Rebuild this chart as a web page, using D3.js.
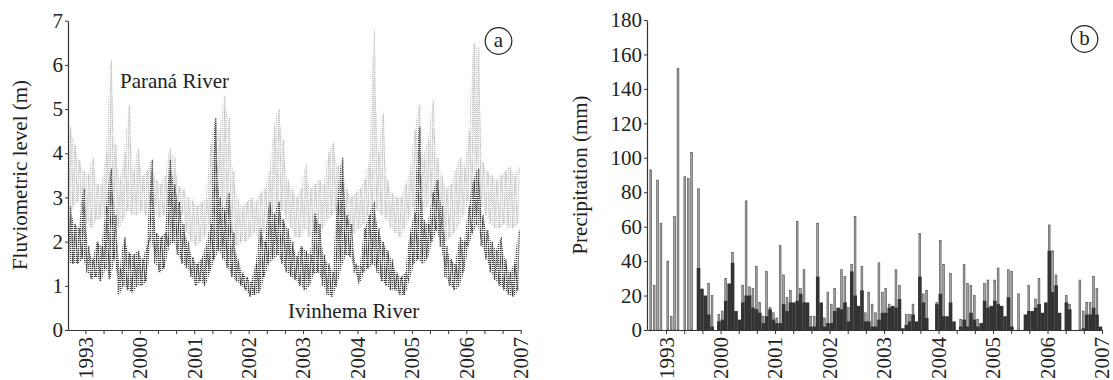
<!DOCTYPE html>
<html>
<head>
<meta charset="utf-8">
<script src="https://d3js.org/d3.v7.min.js"></script>
<style>
body { margin: 0; background: #fff; }
svg text { font-family: 'Liberation Serif', 'Times New Roman', serif !important; fill: #222; }
</style>
</head>
<body>
<div id="chart"></div>
<script>
// year labels as printed under both panels
var yearTicks = [1999, 2000, 2001, 2002, 2003, 2004, 2005, 2006, 2007];
var yearLabels = ["1993", "2000", "2001", "2002", "2003", "2004", "2005", "2006", "2007"];

// fluviometric level (m): monthly low / high, first month = Sep 1998
var levelStart = 1998 + 8 / 12;
var paranaLow = [2.6, 2.8, 2.9, 2.6, 2.4, 2.3, 2.5, 2.5, 2.6, 2.7, 2.4, 2.3, 2.5, 2.7, 2.6, 2.6, 2.7, 2.6, 2.7, 2.6,
    2.55, 2.6, 2.8, 2.7, 2.55, 2.6, 2.2, 2.0, 1.9, 2.0, 2.1, 2.4, 2.7, 2.8, 2.7, 2.6, 2.2, 1.9, 2.0, 2.0,
    2.1, 2.2, 2.0, 2.2, 2.4, 2.7, 2.8, 2.7, 2.5, 2.3, 2.1, 2.1, 2.3, 2.1, 2.2, 2.2, 2.3, 2.5, 2.6, 2.7,
    2.6, 2.3, 2.2, 2.2, 2.3, 2.4, 2.6, 2.8, 2.7, 2.6, 2.5, 2.3, 2.2, 2.1, 2.3, 2.5, 2.8, 3.0, 2.7, 2.8,
    3.0, 2.7, 2.3, 2.0, 2.1, 2.2, 2.4, 2.6, 2.9, 3.0, 3.1, 2.8, 2.6, 2.4, 2.3, 2.3, 2.4, 2.3, 2.3, 2.4];
var paranaHigh = [4.6, 4.2, 3.85, 3.6, 3.5, 3.9, 3.3, 3.3, 4.0, 6.1, 4.2, 3.4, 4.0, 5.1, 3.6, 4.1, 3.5, 3.6, 3.85, 3.4,
    3.3, 3.5, 4.1, 3.9, 3.25, 3.2, 3.0, 2.95, 2.8, 2.9, 3.0, 4.2, 4.7, 4.5, 5.3, 4.8, 3.6, 2.95, 2.8, 2.9,
    3.0, 2.9, 3.1, 3.2, 3.6, 4.6, 5.0, 4.3, 3.4, 3.2, 3.0, 3.2, 3.75, 3.2, 3.3, 3.4, 3.3, 4.0, 4.25, 3.7,
    3.8, 3.2, 3.0, 3.1, 3.2, 3.4, 3.8, 6.8, 4.0, 4.9, 3.4, 3.1, 3.0, 3.0, 3.3, 3.6, 4.5, 5.1, 4.0, 4.3,
    5.2, 3.9, 3.5, 3.2, 3.3, 3.6, 3.9, 3.7, 4.5, 6.5, 6.4, 3.8, 3.6, 3.5, 3.4, 3.5, 3.6, 3.7, 3.5, 3.7];
var ivinhemaLow = [1.5, 1.5, 1.5, 1.6, 1.3, 1.15, 1.2, 1.1, 1.4, 1.15, 1.6, 0.8, 1.0, 0.9, 0.85, 1.0, 1.0, 1.1, 2.1, 1.5,
    1.3, 1.4, 1.9, 2.0, 1.7, 1.5, 1.4, 1.2, 1.0, 1.1, 1.0, 1.3, 1.6, 1.8, 1.6, 1.4, 1.2, 1.1, 1.0, 0.9,
    0.75, 0.8, 0.85, 1.2, 1.5, 1.6, 1.7, 1.5, 1.3, 1.2, 1.13, 1.0, 0.9, 1.0, 1.28, 1.3, 1.0, 0.8, 0.75, 1.0,
    1.43, 1.7, 1.66, 1.3, 1.05, 1.3, 1.4, 1.5, 1.3, 1.1, 1.0, 0.9, 0.9, 0.8, 0.79, 1.13, 1.5, 1.6, 1.5, 1.6,
    2.0, 2.26, 1.88, 1.2, 1.0, 0.9, 1.0, 1.3, 1.9, 2.2, 2.4, 1.9, 1.6, 1.3, 1.13, 1.0, 0.9, 0.8, 0.75, 0.9];
var ivinhemaHigh = [2.8, 2.4, 2.3, 3.2, 1.9, 1.6, 2.0, 1.9, 2.8, 3.65, 2.6, 1.4, 2.1, 1.75, 1.7, 1.8, 1.6, 1.9, 3.85, 2.2,
    2.1, 2.2, 3.85, 3.3, 2.9, 2.4, 2.0, 1.65, 1.5, 1.6, 1.9, 2.4, 4.8, 3.0, 2.7, 3.1, 2.2, 1.6, 1.3, 1.2,
    1.1, 1.5, 2.3, 2.0, 2.9, 2.6, 2.9, 2.5, 2.3, 2.0, 1.66, 1.9, 1.8, 1.7, 2.64, 2.4, 1.7, 1.5, 1.3, 3.0,
    3.9, 2.6, 2.4, 1.5, 1.45, 2.3, 2.6, 2.9, 2.3, 2.0, 1.8, 1.6, 1.3, 1.2, 1.3, 2.2, 2.64, 4.6, 2.5, 2.4,
    3.1, 3.4, 2.8, 1.9, 1.6, 1.5, 2.1, 2.0, 2.8, 3.4, 3.65, 2.6, 2.26, 2.0, 1.8, 2.1, 1.6, 1.3, 1.5, 2.26];

// precipitation (mm) in 1/16-year bins starting at precipStart
var precipStart = 1998.6875;
var precipPerYear = 16;
var precipMax = [93, 26, 87, 62, 0, 40, 8, 66, 152, 0, 89, 88, 103, 0, 82, 0, 0, 27, 20, 0,
    9, 11, 30, 0, 45, 0, 0, 26, 75, 25, 24, 37, 16, 8, 34, 13, 10, 7, 49, 32,
    19, 23, 0, 63, 24, 35, 0, 8, 8, 62, 0, 7, 22, 15, 24, 11, 35, 31, 13, 38,
    66, 0, 37, 10, 22, 15, 10, 39, 22, 24, 15, 0, 35, 26, 0, 9, 9, 15, 0, 56,
    21, 23, 0, 0, 16, 52, 38, 0, 33, 0, 0, 6, 38, 27, 26, 20, 6, 0, 27, 29,
    0, 29, 36, 0, 0, 35, 34, 0, 21, 0, 0, 26, 0, 18, 30, 0, 0, 61, 46, 32,
    0, 0, 20, 15, 0, 0, 29, 11, 16, 16, 31, 24, 0];
var precipMean = [0, 0, 0, 0, 0, 0, 0, 0, 0, 0, 0, 0, 0, 0, 36, 24, 20, 9, 2, 0,
    5, 6, 17, 27, 39, 11, 6, 16, 20, 20, 13, 12, 10, 4, 8, 12, 6, 4, 4, 15,
    11, 16, 16, 17, 21, 16, 16, 2, 2, 31, 16, 2, 4, 4, 11, 13, 12, 16, 5, 34,
    20, 14, 23, 5, 5, 2, 2, 6, 10, 10, 13, 14, 13, 18, 1, 3, 5, 9, 5, 31,
    16, 7, 0, 0, 15, 21, 8, 8, 16, 5, 0, 2, 6, 2, 10, 6, 2, 4, 17, 13,
    14, 17, 15, 14, 8, 19, 2, 0, 0, 0, 9, 11, 11, 13, 15, 10, 16, 46, 22, 26,
    10, 0, 16, 12, 0, 0, 0, 1, 9, 9, 13, 9, 2];

var svg = d3.select("#chart")
    .append("svg")
    .attr("width", 1113)
    .attr("height", 380);

// dotted textures used for the river bands
var defs = svg.append("defs");
[["dotsLight", "#c6c6c6"], ["dotsDark", "#3a3a3a"]].forEach(function (p) {
    defs.append("pattern")
        .attr("id", p[0])
        .attr("width", 2).attr("height", 2)
        .attr("patternUnits", "userSpaceOnUse")
        .append("rect")
        .attr("width", 1.3).attr("height", 1)
        .attr("fill", p[1]);
});

var minorTicks = d3.range(0, 25).map(function (i) { return 1999 + i / 3; });

function yearFormat(d) {
    var r = Math.round(d);
    if (Math.abs(d - r) > 1e-6) return "";
    return yearLabels[yearTicks.indexOf(r)];
}

function styleAxis(g) {
    g.attr("font-family", null).attr("font-size", null);
    g.select(".domain").attr("stroke", "#333").attr("stroke-width", 1.2);
    g.selectAll(".tick line").attr("stroke", "#333").attr("stroke-width", 1);
    g.selectAll("text").attr("fill", "#222").style("font-size", "21px");
}

function drawXAxis(x, yPos) {
    var g = svg.append("g")
        .attr("transform", "translate(0," + yPos + ")")
        .call(d3.axisBottom(x).tickValues(minorTicks).tickSize(4).tickSizeOuter(0).tickFormat(yearFormat));
    styleAxis(g);
    g.selectAll("text")
        .attr("transform", "rotate(-90)")
        .attr("text-anchor", "end")
        .attr("x", -7)
        .attr("y", 0)
        .attr("dy", "0.33em");
}

// ---- panel a: river levels
var xa = d3.scaleLinear().domain([1998.68, 2007]).range([68, 520.7]);
var ya = d3.scaleLinear().domain([0, 7]).range([330, 20.7]);

function zigzag(low, high) {
    var pts = [];
    low.forEach(function (lo, i) {
        pts.push([levelStart + (i + 0.25) / 12, lo]);
        pts.push([levelStart + (i + 0.75) / 12, high[i]]);
    });
    return pts;
}

var levelLine = d3.line()
    .x(function (d) { return xa(d[0]); })
    .y(function (d) { return ya(d[1]); });

function levelBand(low, high) {
    return d3.area()
        .x(function (d, i) { return xa(levelStart + (i + 0.5) / 12); })
        .y0(function (d, i) { return ya(low[i]); })
        .y1(function (d, i) { return ya(high[i]); })(low);
}

function drawRiver(low, high, pattern, color) {
    svg.append("path")
        .attr("d", levelBand(low, high))
        .attr("fill", "url(#" + pattern + ")");
    svg.append("path")
        .datum(zigzag(low, high))
        .attr("d", levelLine)
        .attr("fill", "none")
        .attr("stroke", color)
        .attr("stroke-width", 1)
        .attr("stroke-dasharray", "1.2,1");
}

drawRiver(paranaLow, paranaHigh, "dotsLight", "#c2c2c2");
drawRiver(ivinhemaLow, ivinhemaHigh, "dotsDark", "#3a3a3a");

var gya = svg.append("g")
    .attr("transform", "translate(68,0)")
    .call(d3.axisLeft(ya).ticks(7).tickSize(3).tickPadding(2).tickSizeOuter(0));
styleAxis(gya);
drawXAxis(xa, 330);

svg.append("text")
    .attr("transform", "translate(27,175) rotate(-90)")
    .attr("text-anchor", "middle")
    .style("font-size", "21px")
    .text("Fluviometric level (m)");

svg.append("text").attr("x", 120).attr("y", 88).style("font-size", "21px").text("Paraná River");
svg.append("text").attr("x", 288).attr("y", 318).style("font-size", "21px").text("Ivinhema River");

// ---- panel b: precipitation
var xb = d3.scaleLinear().domain([1998.65, 2007]).range([647, 1102]);
var yb = d3.scaleLinear().domain([0, 180]).range([330, 20]);
var binW = xb(precipStart + 1 / precipPerYear) - xb(precipStart);

svg.append("g").selectAll("rect")
    .data(precipMax)
    .enter().append("rect")
    .attr("x", function (d, i) { return xb(precipStart + (i + 0.5) / precipPerYear) - 0.9; })
    .attr("y", function (d) { return yb(d); })
    .attr("width", 1.8)
    .attr("height", function (d) { return yb(0) - yb(d); })
    .attr("fill", "#a3a3a3")
    .attr("stroke", "#505050")
    .attr("stroke-width", 0.6)
    .style("display", function (d) { return d > 0 ? null : "none"; });

svg.append("g").selectAll("rect")
    .data(precipMean)
    .enter().append("rect")
    .attr("x", function (d, i) { return xb(precipStart + i / precipPerYear); })
    .attr("y", function (d) { return yb(d); })
    .attr("width", binW + 0.2)
    .attr("height", function (d) { return yb(0) - yb(d); })
    .attr("fill", "#333");

var gyb = svg.append("g")
    .attr("transform", "translate(647,0)")
    .call(d3.axisLeft(yb).tickValues(d3.range(0, 181, 20)).tickSize(3).tickPadding(2).tickSizeOuter(0));
styleAxis(gyb);
drawXAxis(xb, 330);

svg.append("text")
    .attr("transform", "translate(587,175) rotate(-90)")
    .attr("text-anchor", "middle")
    .style("font-size", "21px")
    .text("Precipitation (mm)");

// panel letters
[["a", 498.5, 41], ["b", 1084.5, 39]].forEach(function (p) {
    svg.append("circle")
        .attr("cx", p[1]).attr("cy", p[2]).attr("r", 13.3)
        .attr("fill", "none").attr("stroke", "#222").attr("stroke-width", 1.2);
    svg.append("text")
        .attr("x", p[1]).attr("y", p[2])
        .attr("dy", "0.3em")
        .attr("text-anchor", "middle")
        .style("font-size", "21px")
        .text(p[0]);
});
</script>
</body>
</html>
